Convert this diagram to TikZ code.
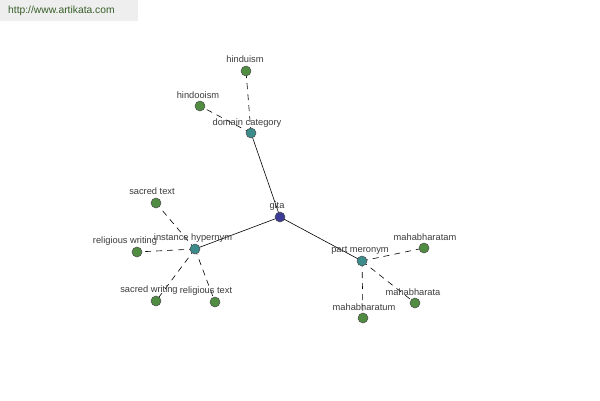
\documentclass[tikz,border=0pt]{standalone}
\usepackage{fontspec}
\setmainfont{Liberation Sans}
\definecolor{leafgreen}{RGB}{80,140,65}
\definecolor{hubteal}{RGB}{60,140,140}
\definecolor{rootblue}{RGB}{60,60,150}
\definecolor{labelgray}{RGB}{60,60,60}
\definecolor{headbg}{RGB}{238,238,238}
\definecolor{urlgreen}{RGB}{55,95,40}
\begin{document}
\begin{tikzpicture}[x=1pt,y=-1pt,
  leaf/.style={circle,draw=black!70,line width=0.5pt,fill=leafgreen,minimum size=10pt,inner sep=0pt},
  hub/.style={circle,draw=black!70,line width=0.5pt,fill=hubteal,minimum size=10pt,inner sep=0pt},
  root/.style={circle,draw=black!70,line width=0.5pt,fill=rootblue,minimum size=10pt,inner sep=0pt},
  lbl/.style={font=\fontsize{9.3}{10}\selectfont,text=labelgray,inner sep=0pt},
  solidedge/.style={draw=black,line width=0.6pt},
  dashededge/.style={draw=black,line width=0.6pt,dash pattern=on 6pt off 5pt}]
\useasboundingbox (0,0) rectangle (600,400);
\fill[white] (0,0) rectangle (600,400);
\fill[headbg] (0,0) rectangle (138,21);
\node[font=\fontsize{10.3}{12}\selectfont,text=urlgreen,anchor=west,inner sep=0pt] (url) at (8,11) {http://www.artikata.com};
% edges
\coordinate (pgita) at (280,217);
\coordinate (pdom) at (251,133);
\coordinate (pinst) at (195,249);
\coordinate (ppart) at (362,261);
\coordinate (phinduism) at (246,71);
\coordinate (phindooism) at (200,106);
\coordinate (psacredtext) at (156,203);
\coordinate (preligwriting) at (137,252);
\coordinate (psacredwriting) at (156,301);
\coordinate (preligtext) at (215,302);
\coordinate (pmahabharatam) at (424,248);
\coordinate (pmahabharata) at (415,303);
\coordinate (pmahabharatum) at (363,318);
\draw[solidedge] (pgita) -- (pdom);
\draw[solidedge] (pgita) -- (pinst);
\draw[solidedge] (pgita) -- (ppart);
\draw[dashededge] (pdom) -- (phinduism);
\draw[dashededge] (pdom) -- (phindooism);
\draw[dashededge] (pinst) -- (psacredtext);
\draw[dashededge] (pinst) -- (preligwriting);
\draw[dashededge] (pinst) -- (psacredwriting);
\draw[dashededge] (pinst) -- (preligtext);
\draw[dashededge] (ppart) -- (pmahabharatam);
\draw[dashededge] (ppart) -- (pmahabharata);
\draw[dashededge] (ppart) -- (pmahabharatum);
% nodes
\node[root] (gita) at (pgita) {};
\node[hub] (dom) at (pdom) {};
\node[hub] (inst) at (pinst) {};
\node[hub] (part) at (ppart) {};
\node[leaf] (hinduism) at (phinduism) {};
\node[leaf] (hindooism) at (phindooism) {};
\node[leaf] (sacredtext) at (psacredtext) {};
\node[leaf] (religwriting) at (preligwriting) {};
\node[leaf] (sacredwriting) at (psacredwriting) {};
\node[leaf] (religtext) at (preligtext) {};
\node[leaf] (mahabharatam) at (pmahabharatam) {};
\node[leaf] (mahabharata) at (pmahabharata) {};
\node[leaf] (mahabharatum) at (pmahabharatum) {};
% labels
\node[lbl] (lgita) at (277,206) {gita};
\node[lbl] (ldom) at (247,123) {domain category};
\node[lbl] (linst) at (193,238) {instance hypernym};
\node[lbl] (lpart) at (360,250) {part meronym};
\node[lbl] (lhinduism) at (245,59) {hinduism};
\node[lbl] (lhindooism) at (198,95) {hindooism};
\node[lbl] (lsacredtext) at (152,191) {sacred text};
\node[lbl] (lreligwriting) at (125,241) {religious writing};
\node[lbl] (lsacredwriting) at (149,290) {sacred writing};
\node[lbl] (lreligtext) at (206,291) {religious text};
\node[lbl] (lmahabharatam) at (425,237) {mahabharatam};
\node[lbl] (lmahabharata) at (413,292) {mahabharata};
\node[lbl] (lmahabharatum) at (364,307) {mahabharatum};
\end{tikzpicture}
\end{document}
